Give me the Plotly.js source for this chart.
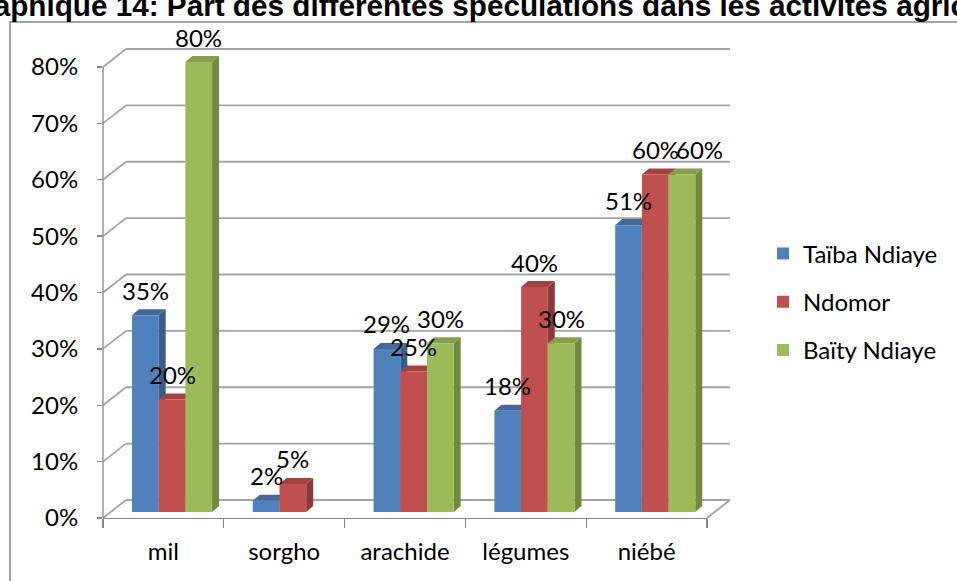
<!DOCTYPE html>
<html>
<head>
<meta charset="utf-8">
<script src="https://cdn.plot.ly/plotly-3.0.1.min.js"></script>
<style>html,body{margin:0;padding:0;background:#fff;}#chart{width:957px;height:581px;}</style>
</head>
<body>
<div id="chart"></div>
<script>
// ---- data ----
const categories = ['mil', 'sorgho', 'arachide', 'légumes', 'niébé'];
const seriesNames = ['Taïba Ndiaye', 'Ndomor', 'Baïty Ndiaye'];
const taibaNdiaye = [0.35, 0.02, 0.29, 0.18, 0.51];
const ndomor = [0.20, 0.05, 0.25, 0.40, 0.60];
const baityNdiaye = [0.80, null, 0.30, 0.30, 0.60];
const yTickVals = [0, 0.1, 0.2, 0.3, 0.4, 0.5, 0.6, 0.7, 0.8];
const titleText = 'Graphique 14: Part des différentes spéculations dans les activités agricoles';

// ---- style / layout constants ----
const W = 957, H = 581;
const M = {l: 103, r: 250, t: 14, b: 63};
const plotW = W - M.l - M.r, plotH = H - M.t - M.b;   // 604 x 504
const plotBottom = H - M.b;                          // 518
const frontShift = 6;                                // bars sit 6px above front edge
const kY2 = 563.75;                                  // px per unit, tick axis
const kY = 562.5;                                    // px per unit, bar axis
const depthX = 23, depthY = 18;                      // wall depth (px)
const barDX = 7, barDY = 6;                          // bar depth (px)
const colors = ['#4F81BD', '#C0504D', '#9BBB59'];
const sideColors = ['#385D8A', '#8C3836', '#6F8A3C'];
const topColors = ['#42699A', '#A34340', '#84A04A'];
const offsets = [-0.26, -0.039, 0.182];
const barWidth = 0.221;
const gridColor = '#A3A3A3';
const axisColor = '#868686';
const FONT = 'Lato, "Open Sans", sans-serif';
const labelNudgeX = {'2,4': 18};

const series = [taibaNdiaye, ndomor, baityNdiaye];

const pxX = p => (p - M.l) / plotW;       // pixel -> paper x
const pxY = p => (plotBottom - p) / plotH; // pixel -> paper y
const tickPx = v => plotBottom - v * kY2;  // value -> pixel (front plane)

const yRange = [-frontShift / kY, (plotBottom - frontShift - M.t) / kY];
const y2Range = [0, plotH / kY2];
const unitX = plotW / categories.length;

// ---- traces ----
const traces = series.map((vals, s) => ({
  type: 'bar',
  name: seriesNames[s],
  x: categories,
  y: vals,
  offset: offsets[s],
  width: barWidth,
  marker: {color: colors[s], line: {width: 0}},
  xaxis: 'x', yaxis: 'y',
  legendgroup: 'g' + s,
  hoverinfo: 'skip',
  cliponaxis: false
}));
// empty helper trace so the value axis (front plane) is drawn
traces.push({type: 'scatter', mode: 'markers', x: categories, y: categories.map(() => null),
  xaxis: 'x', yaxis: 'y2', showlegend: false, hoverinfo: 'skip'});

// ---- shapes ----
const shapes = [];
// outer chart border
shapes.push({type: 'rect', xref: 'paper', yref: 'paper', layer: 'below',
  x0: pxX(10), x1: pxX(1100), y0: pxY(22), y1: pxY(700),
  line: {color: axisColor, width: 1.5}, fillcolor: 'rgba(0,0,0,0)'});
// back wall gridlines + left wall diagonals
yTickVals.forEach(v => {
  const yf = tickPx(v), yb = yf - depthY;
  shapes.push({type: 'line', xref: 'paper', yref: 'paper', layer: 'below',
    x0: pxX(M.l + depthX), x1: pxX(M.l + plotW + depthX), y0: pxY(yb), y1: pxY(yb),
    line: {color: gridColor, width: 1.8}});
  shapes.push({type: 'line', xref: 'paper', yref: 'paper', layer: 'below',
    x0: pxX(M.l), x1: pxX(M.l + depthX), y0: pxY(yf), y1: pxY(yb),
    line: {color: gridColor, width: 1.8}});
});
// floor right edge
shapes.push({type: 'line', xref: 'paper', yref: 'paper', layer: 'below',
  x0: pxX(M.l + plotW), x1: pxX(M.l + plotW + depthX), y0: pxY(plotBottom), y1: pxY(plotBottom - depthY),
  line: {color: gridColor, width: 1.8}});
// vertical value axis line
shapes.push({type: 'line', xref: 'paper', yref: 'paper', layer: 'above',
  x0: 0, x1: 0, y0: pxY(tickPx(yTickVals[yTickVals.length - 1])), y1: 0,
  line: {color: axisColor, width: 1.3}});
// 3D faces of bars (from data)
const dxu = barDX / unitX, dyu = barDY / kY;
series.forEach((vals, s) => {
  vals.forEach((v, i) => {
    if (v === null || v === undefined) return;
    const L = i + offsets[s], R = L + barWidth;
    shapes.push({type: 'path', xref: 'x', yref: 'y', layer: 'below',
      path: `M${R},0 L${R},${v} L${R + dxu},${v + dyu} L${R + dxu},${dyu} Z`,
      fillcolor: sideColors[s], line: {width: 0}});
    shapes.push({type: 'path', xref: 'x', yref: 'y', layer: 'below',
      path: `M${L},${v} L${L + dxu},${v + dyu} L${R + dxu},${v + dyu} L${R},${v} Z`,
      fillcolor: topColors[s], line: {width: 0}});
  });
});

// ---- annotations ----
const annotations = [];
series.forEach((vals, s) => {
  vals.forEach((v, i) => {
    if (v === null || v === undefined) return;
    annotations.push({xref: 'x', yref: 'y', x: i + offsets[s] + barWidth / 2, y: v,
      text: Math.round(v * 100) + '%', showarrow: false, yanchor: 'middle', xanchor: 'center',
      yshift: 25, xshift: labelNudgeX[s + ',' + i] || 0,
      font: {family: FONT, size: 24, color: '#000'}});
  });
});
annotations.push({xref: 'paper', yref: 'paper', x: pxX(-43), y: pxY(24),
  xanchor: 'left', yanchor: 'bottom', showarrow: false, text: '<b>' + titleText + '</b>',
  font: {family: '"Liberation Sans", Arial, sans-serif', size: 29.7, color: '#000'}});

const layout = {
  width: W, height: H,
  margin: M,
  paper_bgcolor: '#ffffff',
  plot_bgcolor: 'rgba(0,0,0,0)',
  barmode: 'overlay',
  showlegend: true,
  legend: {x: pxX(763), xanchor: 'left', y: pxY(302), yanchor: 'middle',
    font: {family: FONT, size: 24, color: '#000'}, tracegroupgap: 14,
    bgcolor: 'rgba(0,0,0,0)', traceorder: 'grouped'},
  xaxis: {type: 'category', categoryorder: 'array', categoryarray: categories,
    range: [-0.5, categories.length - 0.5], anchor: 'y',
    showline: true, linecolor: axisColor, linewidth: 1.3,
    ticks: 'outside', tickson: 'boundaries', ticklen: 9, tickcolor: axisColor, tickwidth: 1.3,
    showgrid: false, zeroline: false, ticklabelstandoff: 12,
    tickfont: {family: FONT, size: 24, color: '#000'}, fixedrange: true},
  yaxis: {range: yRange, visible: false, showgrid: false, zeroline: false, fixedrange: true},
  yaxis2: {overlaying: 'y', side: 'left', anchor: 'x', range: y2Range,
    tickmode: 'array', tickvals: yTickVals, tickformat: '.0%',
    ticks: 'outside', ticklen: 5, tickcolor: axisColor, tickwidth: 1.3,
    showline: false, showgrid: false, zeroline: false, ticklabelstandoff: 14,
    tickfont: {family: FONT, size: 24, color: '#000'}, fixedrange: true},
  shapes: shapes,
  annotations: annotations
};

Plotly.newPlot('chart', traces, layout, {displayModeBar: false, staticPlot: true});
</script>
</body>
</html>
